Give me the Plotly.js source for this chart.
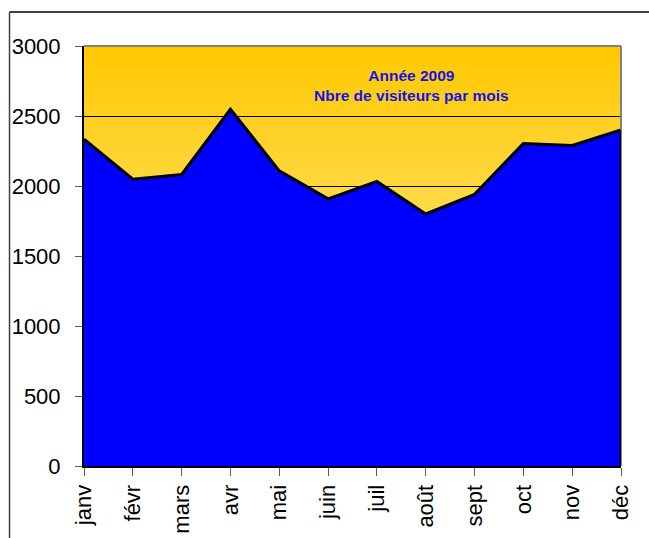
<!DOCTYPE html>
<html>
<head>
<meta charset="utf-8">
<script src="https://cdn.plot.ly/plotly-3.0.1.min.js"></script>
<style>
html,body{margin:0;padding:0;background:#fff;}
#chart{width:649px;height:538px;}
</style>
</head>
<body>
<div id="chart"></div>
<script>
const months = ["janv","févr","mars","avr","mai","juin","juil","août","sept","oct","nov","déc"];
const visitors = [2335, 2048, 2082, 2548, 2108, 1908, 2032, 1800, 1940, 2304, 2290, 2400];
const yTicks = [0, 500, 1000, 1500, 2000, 2500, 3000];
const titleLines = ["Année 2009", "Nbre de visiteurs par mois"];

const FONT = "Liberation Sans, Arial, sans-serif";

const gradSvg = '<svg xmlns="http://www.w3.org/2000/svg" width="10" height="100" preserveAspectRatio="none">' +
  '<defs><linearGradient id="g" x1="0" y1="0" x2="0" y2="1">' +
  '<stop offset="0" stop-color="#FFC800"/><stop offset="1" stop-color="#FFF6B8"/>' +
  '</linearGradient></defs><rect width="10" height="100" fill="url(#g)"/></svg>';
const gradUri = 'data:image/svg+xml;base64,' + btoa(gradSvg);

const trace = {
  x: months,
  y: visitors,
  type: 'scatter',
  mode: 'lines',
  fill: 'tozeroy',
  fillcolor: '#0000FF',
  line: {color: '#000000', width: 3},
  hoverinfo: 'x+y'
};

const layout = {
  width: 649, height: 538,
  margin: {l: 84, r: 28, t: 46, b: 72, pad: 0},
  paper_bgcolor: '#FFFFFF',
  plot_bgcolor: 'rgba(0,0,0,0)',
  showlegend: false,
  font: {family: FONT, color: '#000000', size: 22},
  xaxis: {
    type: 'category',
    range: [0, months.length - 1],
    showgrid: false,
    zeroline: false,
    showline: true, linecolor: '#000000', linewidth: 2,
    ticks: 'outside', ticklen: 8, tickcolor: '#606060', tickwidth: 1,
    tickangle: -90,
    tickfont: {family: FONT, size: 22, color: '#000000'}
  },
  yaxis: {
    range: [0, 3000],
    tickvals: yTicks,
    ticktext: yTicks.map(String),
    showgrid: true, gridcolor: '#000000', gridwidth: 1,
    zeroline: false,
    showline: true, linecolor: '#000000', linewidth: 2,
    ticks: 'outside', ticklen: 7, tickcolor: '#606060', tickwidth: 1,
    ticklabelstandoff: 10,
    tickfont: {family: FONT, size: 22, color: '#000000'}
  },
  images: [{
    source: gradUri, xref: 'paper', yref: 'paper',
    x: 0, y: 1, sizex: 1, sizey: 1, sizing: 'stretch', layer: 'below',
    xanchor: 'left', yanchor: 'top'
  }],
  annotations: [{
    text: '<b>' + titleLines.join('<br>') + '</b>',
    xref: 'paper', yref: 'paper', x: 0.609, y: 0.906,
    xanchor: 'center', yanchor: 'middle', showarrow: false,
    font: {family: FONT, size: 15.5, color: '#1414E6'}
  }],
  shapes: [
    {type: 'line', xref: 'paper', yref: 'paper', x0: 0, x1: 1, y0: 1, y1: 1, line: {color: '#808080', width: 2}},
    {type: 'line', xref: 'paper', yref: 'paper', x0: 1, x1: 1, y0: 0, y1: 1, line: {color: '#808080', width: 2}},
    {type: 'line', xref: 'x', yref: 'y', x0: months.length - 1, x1: months.length - 1, y0: 0, y1: visitors[visitors.length - 1], line: {color: '#000000', width: 3}},
    {type: 'line', xref: 'paper', yref: 'paper', x0: -0.1387, x1: 1.06, y0: 1.081, y1: 1.081, line: {color: '#404040', width: 2}},
    {type: 'line', xref: 'paper', yref: 'paper', x0: -0.1387, x1: -0.1387, y0: -0.18, y1: 1.081, line: {color: '#404040', width: 1.5}}
  ]
};

Plotly.newPlot('chart', [trace], layout, {displayModeBar: false, staticPlot: true});
</script>
</body>
</html>
